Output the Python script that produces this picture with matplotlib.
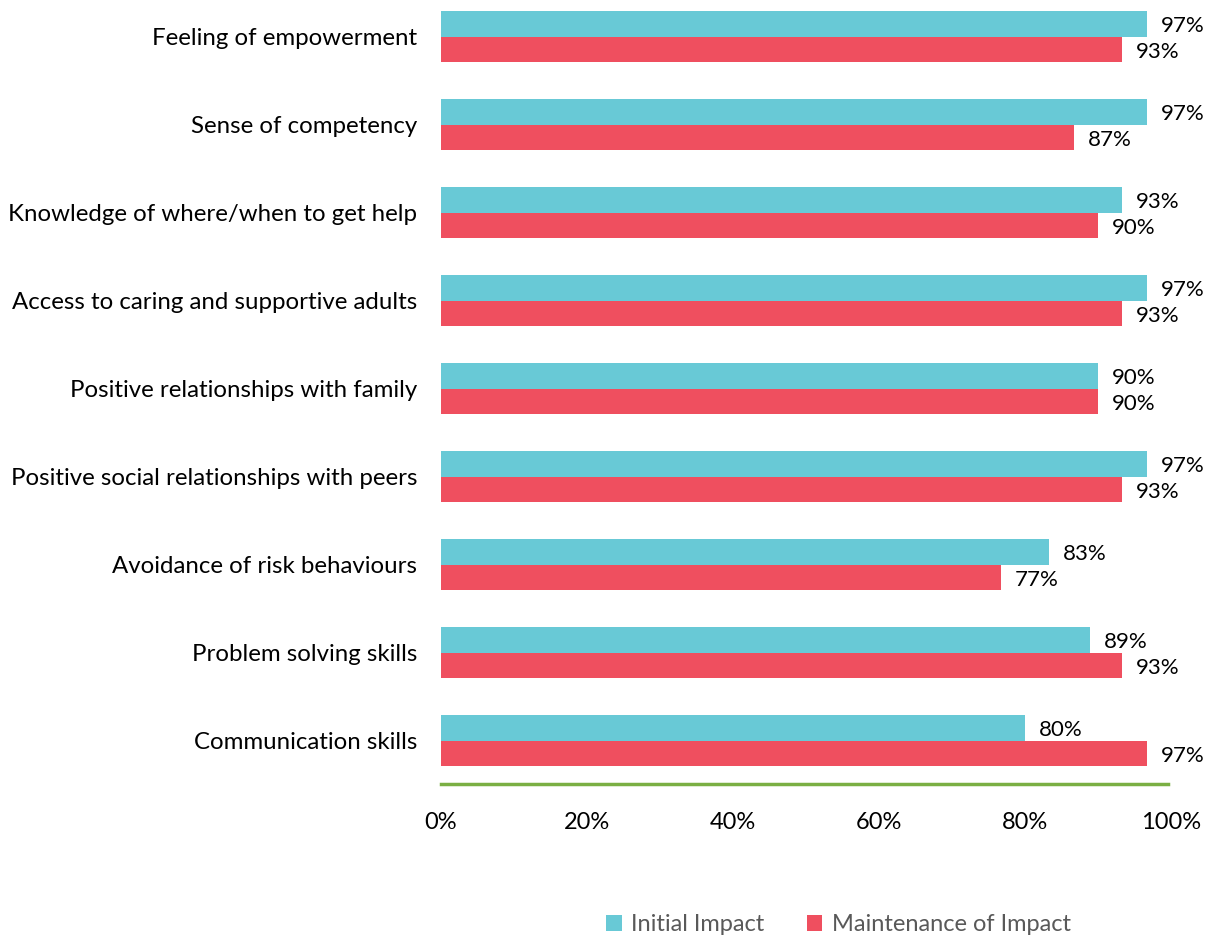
import numpy as np
import matplotlib.pyplot as plt

categories = ["Feeling of empowerment", "Sense of competency",
              "Knowledge of where/when to get help",
              "Access to caring and supportive adults",
              "Positive relationships with family",
              "Positive social relationships with peers",
              "Avoidance of risk behaviours", "Problem solving skills",
              "Communication skills"]
initial = [96.7, 96.7, 93.3, 96.7, 90.0, 96.7, 83.3, 88.9, 80.0]
maintenance = [93.3, 86.7, 90.0, 93.3, 90.0, 93.3, 76.7, 93.3, 96.7]
xticks = [0, 20, 40, 60, 80, 100]

plt.rcParams['font.family'] = ['Lato', 'DejaVu Sans']

fig = plt.figure(figsize=(12.1, 9.36), dpi=100)
ax = fig.add_axes([0.3645, 0.1624, 0.6033, 0.8376])

y = np.arange(len(categories))
h = 0.29
c_init = '#68C9D6'
c_main = '#EF4F5F'
b1 = ax.barh(y - h / 2, initial, height=h, color=c_init, label='Initial Impact')
b2 = ax.barh(y + h / 2, maintenance, height=h, color=c_main, label='Maintenance of Impact')

for yi, v in zip(y, initial):
    ax.annotate(f"{v:.0f}%", (v, yi - h / 2), xytext=(10, -1.5), textcoords='offset points',
                va='center', ha='left', fontsize=16)
for yi, v in zip(y, maintenance):
    ax.annotate(f"{v:.0f}%", (v, yi + h / 2), xytext=(10, -1.5), textcoords='offset points',
                va='center', ha='left', fontsize=16)

ax.set_xlim(0, 100)
ax.set_ylim(8.49, -0.42)
ax.set_yticks(y)
ax.set_yticklabels(categories, fontsize=17.3)
ax.set_xticks(xticks)
ax.set_xticklabels([f"{t}%" for t in xticks], fontsize=17)
ax.tick_params(length=0)
ax.tick_params(axis='y', pad=17)
ax.tick_params(axis='x', pad=20)
for s in ['top', 'right', 'left']:
    ax.spines[s].set_visible(False)
ax.spines['bottom'].set_color('#7AAF43')
ax.spines['bottom'].set_linewidth(2.5)
ax.spines['bottom'].set_bounds(0, 99.6)

leg = fig.legend(handles=[b1, b2], loc='lower center', bbox_to_anchor=(0.693, -0.022),
                 ncol=2, frameon=False, fontsize=17, handlelength=0.65, handleheight=0.65,
                 columnspacing=1.8, handletextpad=0.4)
for t in leg.get_texts():
    t.set_color('#595959')

fig.savefig('out.png', dpi=100)
